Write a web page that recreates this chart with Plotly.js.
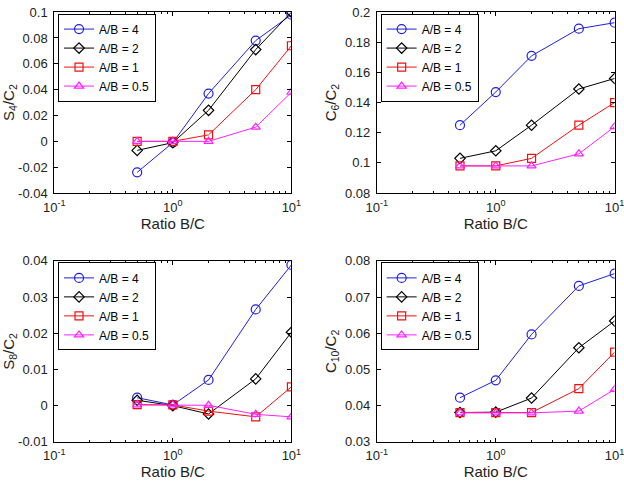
<!DOCTYPE html>
<html>
<head>
<meta charset="utf-8">
<script src="https://cdn.plot.ly/plotly-3.0.1.min.js"></script>
<style>html,body{margin:0;padding:0;background:#fff;}#chart{width:624px;height:485px;}</style>
</head>
<body>
<div id="chart"></div>
<script>
// Data
const ratioBC = [0.5, 1, 2, 5, 10];
const seriesNames = ['A/B = 4', 'A/B = 2', 'A/B = 1', 'A/B = 0.5'];

const s4_ab4  = [-0.024, -0.001, 0.037, 0.078, 0.098];
const s4_ab2  = [-0.007, -0.001, 0.024, 0.071, 0.100];
const s4_ab1  = [0.000, 0.000, 0.005, 0.040, 0.074];
const s4_ab05 = [0.000, 0.000, 0.000, 0.011, 0.038];

const c6_ab4  = [0.125, 0.147, 0.171, 0.189, 0.193];
const c6_ab2  = [0.103, 0.108, 0.125, 0.149, 0.156];
const c6_ab1  = [0.098, 0.098, 0.103, 0.125, 0.140];
const c6_ab05 = [0.098, 0.098, 0.098, 0.106, 0.124];

const s8_ab4  = [0.0022, 0.0002, 0.0071, 0.0266, 0.0389];
const s8_ab2  = [0.0015, 0.0000, -0.0023, 0.0074, 0.0203];
const s8_ab1  = [0.0003, 0.0002, -0.0015, -0.0031, 0.0052];
const s8_ab05 = [0.0002, 0.0002, 0.0001, -0.0024, -0.0031];

const c10_ab4  = [0.0422, 0.0470, 0.0597, 0.0731, 0.0765];
const c10_ab2  = [0.0381, 0.0382, 0.0421, 0.0560, 0.0634];
const c10_ab1  = [0.0381, 0.0381, 0.0381, 0.0447, 0.0548];
const c10_ab05 = [0.0380, 0.0380, 0.0380, 0.0385, 0.0445];

const xTickVals = [0.1, 1, 10];
const xTickText = ['10<sup>-1</sup>', '10<sup>0</sup>', '10<sup>1</sup>'];

const s4Ticks  = [-0.04, -0.02, 0, 0.02, 0.04, 0.06, 0.08, 0.1];
const s4Labels = ['-0.04', '-0.02', '0', '0.02', '0.04', '0.06', '0.08', '0.1'];
const c6Ticks  = [0.08, 0.1, 0.12, 0.14, 0.16, 0.18, 0.2];
const c6Labels = ['0.08', '0.1', '0.12', '0.14', '0.16', '0.18', '0.2'];
const s8Ticks  = [-0.01, 0, 0.01, 0.02, 0.03, 0.04];
const s8Labels = ['-0.01', '0', '0.01', '0.02', '0.03', '0.04'];
const c10Ticks  = [0.03, 0.04, 0.05, 0.06, 0.07, 0.08];
const c10Labels = ['0.03', '0.04', '0.05', '0.06', '0.07', '0.08'];

const colors = ['#1f1fe0', '#000000', '#ee1111', '#ff22ff'];
const symbols = ['circle-open', 'diamond-open', 'square-open', 'triangle-up-open'];
const sizes = [9, 8, 8, 8];

const panels = [
  {data: [s4_ab4, s4_ab2, s4_ab1, s4_ab05], x: 'x', y: 'y', legend: 'legend'},
  {data: [c6_ab4, c6_ab2, c6_ab1, c6_ab05], x: 'x2', y: 'y2', legend: 'legend2'},
  {data: [s8_ab4, s8_ab2, s8_ab1, s8_ab05], x: 'x3', y: 'y3', legend: 'legend3'},
  {data: [c10_ab4, c10_ab2, c10_ab1, c10_ab05], x: 'x4', y: 'y4', legend: 'legend4'}
];

const traces = [];
panels.forEach(p => {
  p.data.forEach((ys, i) => {
    traces.push({
      x: ratioBC, y: ys, xaxis: p.x, yaxis: p.y, legend: p.legend,
      name: seriesNames[i], type: 'scatter', mode: 'lines+markers',
      line: {color: colors[i], width: 1},
      marker: {symbol: symbols[i], size: sizes[i], color: colors[i], line: {width: 1.2, color: colors[i]}}
    });
  });
});

const minorVals = [0.2,0.3,0.4,0.5,0.6,0.7,0.8,0.9,2,3,4,5,6,7,8,9];
function xax(domain) {
  return {
    type: 'log', domain: domain, range: [-1, 1],
    tickmode: 'array', tickvals: xTickVals, ticktext: xTickText,
    ticks: 'inside', ticklen: 4, tickcolor: '#000', mirror: 'ticks',
    showline: true, linecolor: '#000', linewidth: 1, showgrid: false, zeroline: false,
    minor: {tickmode: 'array', tickvals: minorVals, ticks: 'inside', ticklen: 2, tickcolor: '#000', showgrid: false},
    tickfont: {size: 13, color: '#222'}, ticklabelstandoff: 2, ticklabeloverflow: 'allow',
    title: {text: 'Ratio B/C', font: {size: 15, color: '#222'}, standoff: 3}
  };
}
function yax(domain, range, vals, labels, title) {
  return {
    domain: domain, range: range, tickmode: 'array', tickvals: vals, ticktext: labels,
    ticks: 'inside', ticklen: 4, tickcolor: '#000', mirror: 'ticks',
    showline: true, linecolor: '#000', linewidth: 1, showgrid: false, zeroline: false,
    tickfont: {size: 13, color: '#222'}, ticklabelstandoff: 3,
    title: {text: title, font: {size: 15, color: '#222'}, standoff: 4}
  };
}
function leg(x, y) {
  return {x: x, y: y, xanchor: 'left', yanchor: 'top', bgcolor: '#fff', bordercolor: '#000', borderwidth: 1,
          font: {size: 12, color: '#000'}, tracegroupgap: 0, itemwidth: 30};
}

const xL = [0.087, 0.467], xR = [0.604, 0.985];
const yT = [0.602, 0.975], yB = [0.089, 0.462];

const layout = {
  width: 624, height: 485, margin: {l: 0, r: 0, t: 0, b: 0},
  paper_bgcolor: '#fff', plot_bgcolor: '#fff',
  font: {family: 'Arial, Liberation Sans, sans-serif', color: '#000'},
  showlegend: true,
  xaxis: Object.assign(xax(xL), {anchor: 'y'}),
  yaxis: Object.assign(yax(yT, [-0.04, 0.1], s4Ticks, s4Labels, 'S<sub>4</sub>/C<sub>2</sub>'), {anchor: 'x'}),
  xaxis2: Object.assign(xax(xR), {anchor: 'y2'}),
  yaxis2: Object.assign(yax(yT, [0.08, 0.2], c6Ticks, c6Labels, 'C<sub>6</sub>/C<sub>2</sub>'), {anchor: 'x2'}),
  xaxis3: Object.assign(xax(xL), {anchor: 'y3'}),
  yaxis3: Object.assign(yax(yB, [-0.01, 0.04], s8Ticks, s8Labels, 'S<sub>8</sub>/C<sub>2</sub>'), {anchor: 'x3'}),
  xaxis4: Object.assign(xax(xR), {anchor: 'y4'}),
  yaxis4: Object.assign(yax(yB, [0.03, 0.08], c10Ticks, c10Labels, 'C<sub>10</sub>/C<sub>2</sub>'), {anchor: 'x4'}),
  legend: leg(0.093, 0.972),
  legend2: leg(0.610, 0.972),
  legend3: leg(0.093, 0.459),
  legend4: leg(0.610, 0.459)
};

Plotly.newPlot('chart', traces, layout, {staticPlot: true, displayModeBar: false});
</script>
</body>
</html>
